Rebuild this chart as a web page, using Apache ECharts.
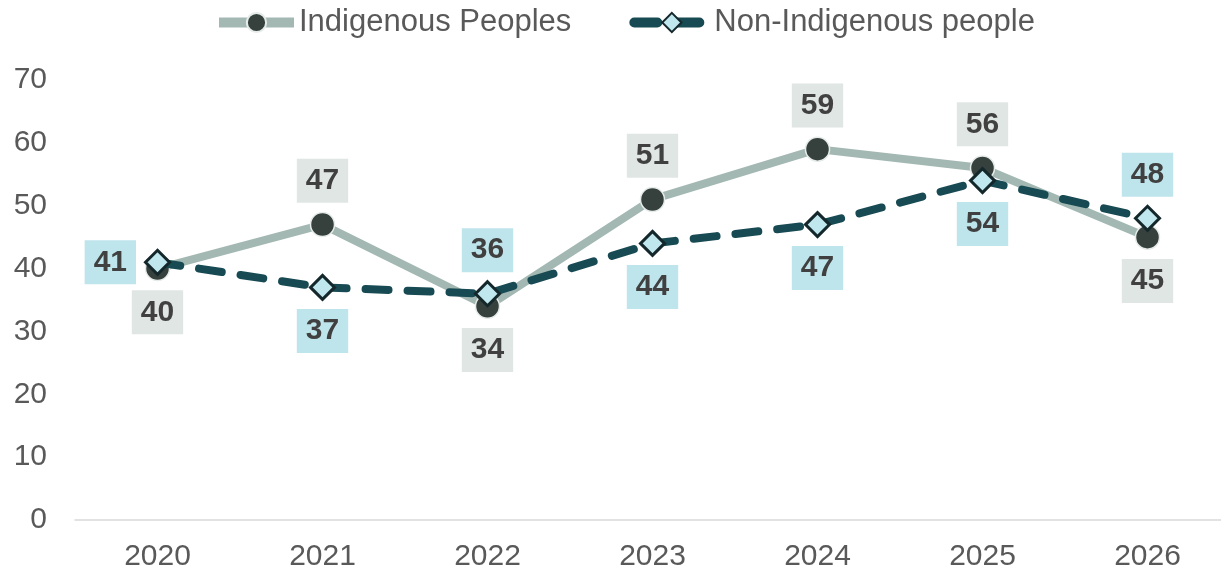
<!DOCTYPE html>
<html><head><meta charset="utf-8">
<script src="https://cdn.jsdelivr.net/npm/echarts@6/dist/echarts.min.js"></script>
<style>html,body{margin:0;padding:0;background:#fff;overflow:hidden}#c{width:1230px;height:572px}</style>
</head><body><div id="c"></div>
<script>
const years = ['2020','2021','2022','2023','2024','2025','2026'];
const indigenous = [40, 47, 34, 51, 59, 56, 45];
const nonIndigenous = [41, 37, 36, 44, 47, 54, 48];
const yTicks = [0, 10, 20, 30, 40, 50, 60, 70];

const indigenousLabelPos = ['bottom','top','bottom','top','top','top','bottom'];
const nonIndigenousLabelPos = ['left','bottom','top','bottom','bottom','bottom','top'];

const font = '"Liberation Sans", Arial, sans-serif';
function lbl(bg, pos, dist) {
  return {show: true, position: pos, distance: dist, fontFamily: font, fontSize: 30, fontWeight: 'bold',
    lineHeight: 30, color: '#404040', backgroundColor: bg, padding: [7, 9, 7, 9]};
}
const chart = echarts.init(document.getElementById('c'));
chart.setOption({
  animation: false,
  legend: {
    top: 7, left: 214, padding: 0, itemWidth: 75, itemHeight: 24, itemGap: 58,
    textStyle: {fontFamily: font, fontSize: 31, color: '#595959'},
    lineStyle: {width: 10},
    data: ['Indigenous Peoples', 'Non-Indigenous people']
  },
  grid: {left: 75, right: 0, top: 80, bottom: 51, containLabel: false},
  xAxis: {
    type: 'category', data: years, boundaryGap: true,
    axisLine: {lineStyle: {color: '#d9d9d9', width: 1.5}},
    axisTick: {show: false},
    axisLabel: {fontFamily: font, fontSize: 30, color: '#595959', margin: 22}
  },
  yAxis: {
    type: 'value', min: yTicks[0], max: yTicks[yTicks.length - 1], interval: 10,
    splitLine: {show: false}, axisLine: {show: false}, axisTick: {show: false},
    axisLabel: {fontFamily: font, fontSize: 30, color: '#595959', margin: 28}
  },
  series: [
    {
      name: 'Indigenous Peoples', type: 'line', z: 2,
      data: indigenous.map((v, i) => ({value: v, label: lbl('#e0e6e4', indigenousLabelPos[i], 9)})),
      lineStyle: {color: '#a3b8b3', width: 8},
      symbol: 'circle', symbolSize: 24,
      itemStyle: {color: '#36413e', borderColor: '#e6ecea', borderWidth: 1.5}
    },
    {
      name: 'Non-Indigenous people', type: 'line', z: 3,
      data: nonIndigenous.map((v, i) => ({value: v, label: lbl('#bfe5ec', nonIndigenousLabelPos[i], 8)})),
      lineStyle: {color: '#174a53', width: 8, type: [23, 19], cap: 'round'},
      symbol: 'diamond', symbolSize: 24,
      itemStyle: {color: '#c0e6ee', borderColor: '#14272b', borderWidth: 3}
    }
  ]
});
</script></body></html>
